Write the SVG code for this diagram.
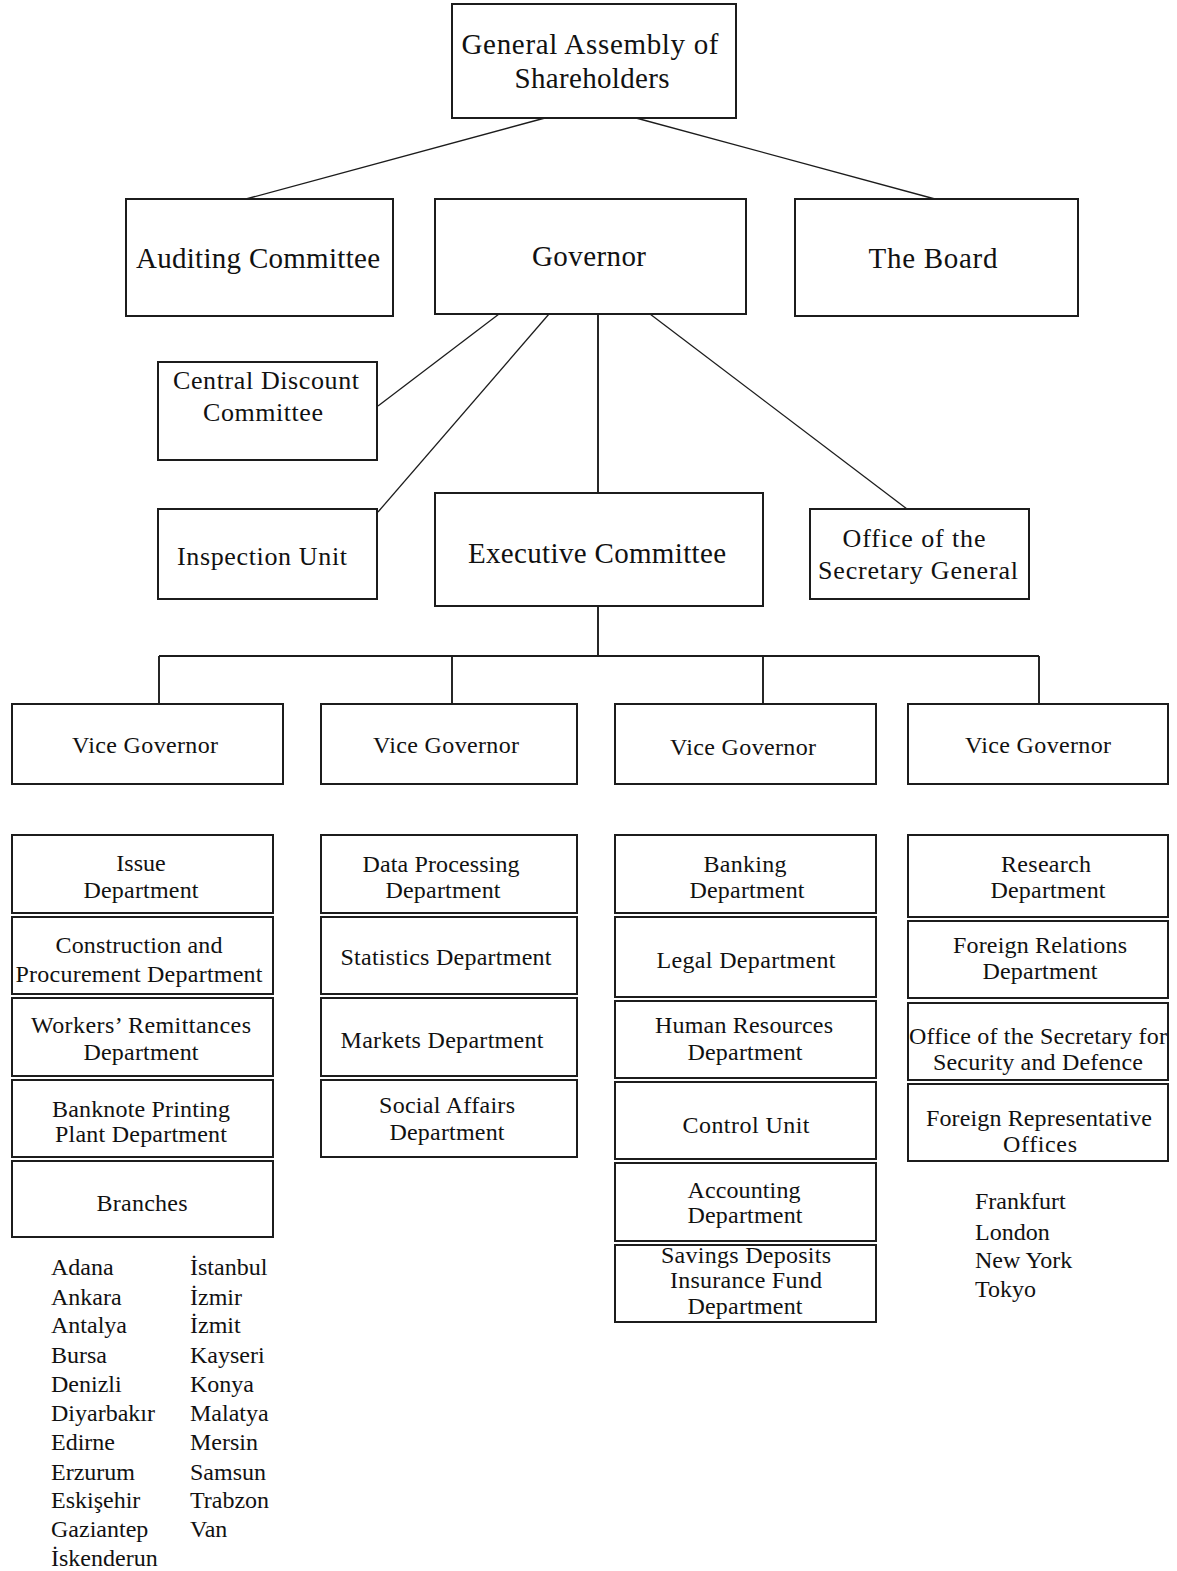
<svg xmlns="http://www.w3.org/2000/svg" width="1177" height="1571" viewBox="0 0 1177 1571">
<style>
  rect.box { fill: #ffffff; stroke: #1c1c1c; stroke-width: 2; }
  .conn { fill: none; stroke: #1c1c1c; stroke-width: 1.3; }
  .conn.ortho { stroke-width: 1.9; }
  text { font-family: "Liberation Serif", "Times New Roman", serif; fill: #111111; text-anchor: middle; }
  .t1 { font-size: 29px; }
  .t2 { font-size: 26px; }
  .t3 { font-size: 24px; }
  .lst { font-size: 24px; text-anchor: start; }
</style>
<rect x="0" y="0" width="1177" height="1571" fill="#ffffff"/>

<g id="connectors">
  <path class="conn" d="M545,118 L246,199"/>
  <path class="conn" d="M636,118 L935,199"/>
  <path class="conn" d="M499,314 L378,406"/>
  <path class="conn" d="M549,314 L378,512"/>
  <path class="conn ortho" d="M598,314 L598,493"/>
  <path class="conn" d="M650,314 L907,509"/>
  <path class="conn ortho" d="M598,606 L598,656"/>
  <path class="conn ortho" d="M159,656 L1039,656"/>
  <path class="conn ortho" d="M159,656 L159,704"/>
  <path class="conn ortho" d="M452,656 L452,704"/>
  <path class="conn ortho" d="M763,656 L763,704"/>
  <path class="conn ortho" d="M1039,656 L1039,704"/>
</g>

<g id="general-assembly">
  <rect class="box" x="452" y="4" width="284" height="114"/>
  <text class="t1" x="590" y="54" textLength="257" lengthAdjust="spacing">General Assembly of</text>
  <text class="t1" x="592" y="88" textLength="155" lengthAdjust="spacing">Shareholders</text>
</g>
<g id="auditing-committee">
  <rect class="box" x="126" y="199" width="267" height="117"/>
  <text class="t1" x="258" y="268" textLength="244" lengthAdjust="spacing">Auditing Committee</text>
</g>
<g id="governor">
  <rect class="box" x="435" y="199" width="311" height="115"/>
  <text class="t1" x="589" y="266" textLength="114" lengthAdjust="spacing">Governor</text>
</g>
<g id="the-board">
  <rect class="box" x="795" y="199" width="283" height="117"/>
  <text class="t1" x="933" y="268" textLength="129" lengthAdjust="spacing">The Board</text>
</g>
<g id="central-discount-committee">
  <rect class="box" x="158" y="362" width="219" height="98"/>
  <text class="t2" x="266" y="389" textLength="186" lengthAdjust="spacing">Central Discount</text>
  <text class="t2" x="263" y="421" textLength="120" lengthAdjust="spacing">Committee</text>
</g>
<g id="inspection-unit">
  <rect class="box" x="158" y="509" width="219" height="90"/>
  <text class="t2" x="262" y="565" textLength="170" lengthAdjust="spacing">Inspection Unit</text>
</g>
<g id="executive-committee">
  <rect class="box" x="435" y="493" width="328" height="113"/>
  <text class="t1" x="597" y="563" textLength="258" lengthAdjust="spacing">Executive Committee</text>
</g>
<g id="office-secretary-general">
  <rect class="box" x="810" y="509" width="219" height="90"/>
  <text class="t2" x="914" y="547" textLength="143" lengthAdjust="spacing">Office of the</text>
  <text class="t2" x="918" y="579" textLength="200" lengthAdjust="spacing">Secretary General</text>
</g>

<g id="vice-governor-1">
  <rect class="box" x="12" y="704" width="271" height="80"/>
  <text class="t3" x="145" y="753" textLength="146" lengthAdjust="spacing">Vice Governor</text>
</g>
<g id="vice-governor-2">
  <rect class="box" x="321" y="704" width="256" height="80"/>
  <text class="t3" x="446" y="753" textLength="146" lengthAdjust="spacing">Vice Governor</text>
</g>
<g id="vice-governor-3">
  <rect class="box" x="615" y="704" width="261" height="80"/>
  <text class="t3" x="743" y="755" textLength="146" lengthAdjust="spacing">Vice Governor</text>
</g>
<g id="vice-governor-4">
  <rect class="box" x="908" y="704" width="260" height="80"/>
  <text class="t3" x="1038" y="753" textLength="146" lengthAdjust="spacing">Vice Governor</text>
</g>

<!-- Column 1 -->
<g id="issue-department">
  <rect class="box" x="12" y="835" width="261" height="78"/>
  <text class="t3" x="141" y="871">Issue</text>
  <text class="t3" x="141" y="898" textLength="115" lengthAdjust="spacing">Department</text>
</g>
<g id="construction-procurement">
  <rect class="box" x="12" y="917" width="261" height="77"/>
  <text class="t3" x="139" y="953" textLength="167" lengthAdjust="spacing">Construction and</text>
  <text class="t3" x="139" y="982" textLength="247" lengthAdjust="spacing">Procurement Department</text>
</g>
<g id="workers-remittances">
  <rect class="box" x="12" y="998" width="261" height="78"/>
  <text class="t3" x="141" y="1033" textLength="220" lengthAdjust="spacing">Workers’ Remittances</text>
  <text class="t3" x="141" y="1060" textLength="115" lengthAdjust="spacing">Department</text>
</g>
<g id="banknote-printing">
  <rect class="box" x="12" y="1080" width="261" height="77"/>
  <text class="t3" x="141" y="1117" textLength="178" lengthAdjust="spacing">Banknote Printing</text>
  <text class="t3" x="141" y="1142" textLength="172" lengthAdjust="spacing">Plant Department</text>
</g>
<g id="branches">
  <rect class="box" x="12" y="1161" width="261" height="76"/>
  <text class="t3" x="142" y="1211" textLength="91" lengthAdjust="spacing">Branches</text>
</g>
<g id="branch-list">
  <text class="lst" x="51" y="1275">Adana</text>
  <text class="lst" x="51" y="1305">Ankara</text>
  <text class="lst" x="51" y="1333">Antalya</text>
  <text class="lst" x="51" y="1363">Bursa</text>
  <text class="lst" x="51" y="1392">Denizli</text>
  <text class="lst" x="51" y="1421">Diyarbakır</text>
  <text class="lst" x="51" y="1450">Edirne</text>
  <text class="lst" x="51" y="1480">Erzurum</text>
  <text class="lst" x="51" y="1508">Eskişehir</text>
  <text class="lst" x="51" y="1537">Gaziantep</text>
  <text class="lst" x="51" y="1566">İskenderun</text>
  <text class="lst" x="190" y="1275">İstanbul</text>
  <text class="lst" x="190" y="1305">İzmir</text>
  <text class="lst" x="190" y="1333">İzmit</text>
  <text class="lst" x="190" y="1363">Kayseri</text>
  <text class="lst" x="190" y="1392">Konya</text>
  <text class="lst" x="190" y="1421">Malatya</text>
  <text class="lst" x="190" y="1450">Mersin</text>
  <text class="lst" x="190" y="1480">Samsun</text>
  <text class="lst" x="190" y="1508">Trabzon</text>
  <text class="lst" x="190" y="1537">Van</text>
</g>

<!-- Column 2 -->
<g id="data-processing">
  <rect class="box" x="321" y="835" width="256" height="78"/>
  <text class="t3" x="441" y="872" textLength="157" lengthAdjust="spacing">Data Processing</text>
  <text class="t3" x="443" y="898" textLength="115" lengthAdjust="spacing">Department</text>
</g>
<g id="statistics">
  <rect class="box" x="321" y="917" width="256" height="77"/>
  <text class="t3" x="446" y="965" textLength="211" lengthAdjust="spacing">Statistics Department</text>
</g>
<g id="markets">
  <rect class="box" x="321" y="998" width="256" height="78"/>
  <text class="t3" x="442" y="1048" textLength="203" lengthAdjust="spacing">Markets Department</text>
</g>
<g id="social-affairs">
  <rect class="box" x="321" y="1080" width="256" height="77"/>
  <text class="t3" x="447" y="1113" textLength="136" lengthAdjust="spacing">Social Affairs</text>
  <text class="t3" x="447" y="1140" textLength="115" lengthAdjust="spacing">Department</text>
</g>

<!-- Column 3 -->
<g id="banking">
  <rect class="box" x="615" y="835" width="261" height="78"/>
  <text class="t3" x="745" y="872" textLength="83" lengthAdjust="spacing">Banking</text>
  <text class="t3" x="747" y="898" textLength="115" lengthAdjust="spacing">Department</text>
</g>
<g id="legal">
  <rect class="box" x="615" y="917" width="261" height="80"/>
  <text class="t3" x="746" y="968" textLength="179" lengthAdjust="spacing">Legal Department</text>
</g>
<g id="human-resources">
  <rect class="box" x="615" y="1001" width="261" height="77"/>
  <text class="t3" x="744" y="1033" textLength="178" lengthAdjust="spacing">Human Resources</text>
  <text class="t3" x="745" y="1060" textLength="115" lengthAdjust="spacing">Department</text>
</g>
<g id="control-unit">
  <rect class="box" x="615" y="1082" width="261" height="77"/>
  <text class="t3" x="746" y="1133" textLength="127" lengthAdjust="spacing">Control Unit</text>
</g>
<g id="accounting">
  <rect class="box" x="615" y="1163" width="261" height="78"/>
  <text class="t3" x="744" y="1198" textLength="113" lengthAdjust="spacing">Accounting</text>
  <text class="t3" x="745" y="1223" textLength="115" lengthAdjust="spacing">Department</text>
</g>
<g id="savings-deposits">
  <rect class="box" x="615" y="1245" width="261" height="77"/>
  <text class="t3" x="746" y="1263" textLength="170" lengthAdjust="spacing">Savings Deposits</text>
  <text class="t3" x="746" y="1288" textLength="152" lengthAdjust="spacing">Insurance Fund</text>
  <text class="t3" x="745" y="1314" textLength="115" lengthAdjust="spacing">Department</text>
</g>

<!-- Column 4 -->
<g id="research">
  <rect class="box" x="908" y="835" width="260" height="82"/>
  <text class="t3" x="1046" y="872" textLength="90" lengthAdjust="spacing">Research</text>
  <text class="t3" x="1048" y="898" textLength="115" lengthAdjust="spacing">Department</text>
</g>
<g id="foreign-relations">
  <rect class="box" x="908" y="921" width="260" height="77"/>
  <text class="t3" x="1040" y="953" textLength="174" lengthAdjust="spacing">Foreign Relations</text>
  <text class="t3" x="1040" y="979" textLength="115" lengthAdjust="spacing">Department</text>
</g>
<g id="security-defence">
  <rect class="box" x="908" y="1003" width="260" height="77"/>
  <text class="t3" x="1038" y="1044" textLength="258" lengthAdjust="spacing">Office of the Secretary for</text>
  <text class="t3" x="1038" y="1070" textLength="210" lengthAdjust="spacing">Security and Defence</text>
</g>
<g id="foreign-representative">
  <rect class="box" x="908" y="1084" width="260" height="77"/>
  <text class="t3" x="1039" y="1126" textLength="226" lengthAdjust="spacing">Foreign Representative</text>
  <text class="t3" x="1040" y="1152" textLength="74" lengthAdjust="spacing">Offices</text>
</g>
<g id="office-list">
  <text class="lst" x="975" y="1209">Frankfurt</text>
  <text class="lst" x="975" y="1240">London</text>
  <text class="lst" x="975" y="1268">New York</text>
  <text class="lst" x="975" y="1297">Tokyo</text>
</g>
</svg>
